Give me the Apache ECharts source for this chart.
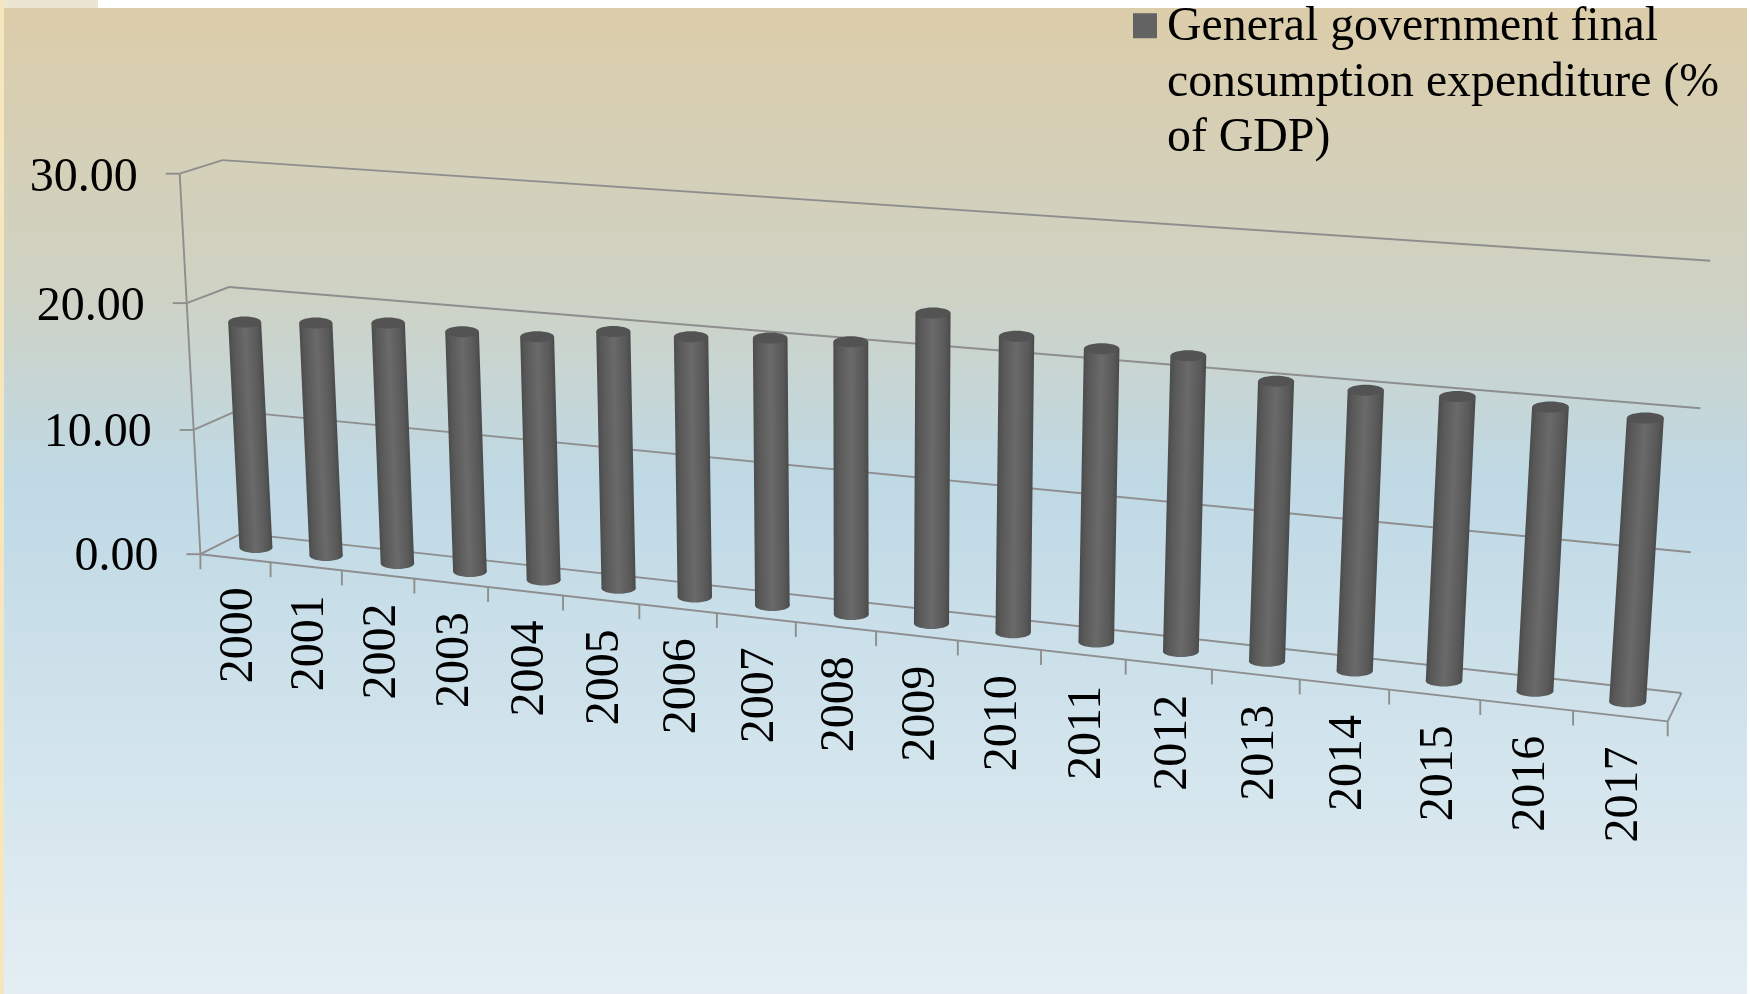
<!DOCTYPE html>
<html><head><meta charset="utf-8">
<style>html,body{margin:0;padding:0;background:#fff}#c{width:1750px;height:994px}</style>
<script src="https://cdn.jsdelivr.net/npm/echarts@6/dist/echarts.min.js"></script>
</head><body><div id="c"></div>
<script>
const categories=['2000','2001','2002','2003','2004','2005','2006','2007','2008','2009','2010','2011','2012','2013','2014','2015','2016','2017'];
const seriesName='General government final consumption expenditure (% of GDP)';
const expenditure=[18.1,18.5,19.0,18.8,18.9,19.8,19.9,20.3,20.5,23.1,21.9,21.5,21.5,20.2,20.1,20.2,20.0,19.8];
const yTicks=[0,10,20,30];

// Camera fit: reference points of the box (u = category slot, v = depth, w = value)
const anchors=[[0,0,0,202,553],[18,0,0,1668,722],[0,1,0,240,534],[18,1,0,1682,692],[0,0,30,178,174],[0,1,30,224,160],[18,1,30,1711,261],
[0,0,10,194,430],[0,0,20,186,303],[0,1,10,234,413],[0,1,20,231,286],[18,1,10,1691,552],[18,1,20,1699,408],[9,0,0,876,632],[4,0,0,489,586],[14,0,0,1299,680]];
function solveCam(){const n=11,A=Array.from({length:n},()=>Array(n+1).fill(0));
 const add=(r,b)=>{for(let i=0;i<n;i++){for(let j=0;j<n;j++)A[i][j]+=r[i]*r[j];A[i][n]+=r[i]*b;}};
 anchors.forEach(([u,v,w,x,y])=>{const s=[u/18,v,w/30];
  add([s[0],s[1],s[2],1,0,0,0,0,-x*s[0],-x*s[1],-x*s[2]],x);
  add([0,0,0,0,s[0],s[1],s[2],1,-y*s[0],-y*s[1],-y*s[2]],y);});
 for(let i=0;i<n;i++){let p=i;for(let k=i+1;k<n;k++)if(Math.abs(A[k][i])>Math.abs(A[p][i]))p=k;[A[i],A[p]]=[A[p],A[i]];
  for(let k=0;k<n;k++){if(k===i)continue;const f=A[k][i]/A[i][i];for(let j=i;j<=n;j++)A[k][j]-=f*A[i][j];}}
 return A.map((r,i)=>r[n]/r[i]);}
const M=solveCam();
const project=(u,v,w)=>{const a=u/18,b=v,c=w/30,d=M[8]*a+M[9]*b+M[10]*c+1;
 return [(M[0]*a+M[1]*b+M[2]*c+M[3])/d,(M[4]*a+M[5]*b+M[6]*c+M[7])/d];};

const LINE='#8e8e8e',FONT='"Liberation Serif","Times New Roman",serif';
const line=(a,b)=>({type:'line',shape:{x1:a[0],y1:a[1],x2:b[0],y2:b[1]},style:{stroke:LINE,lineWidth:1.9}});
function frameItem(params,api){
 const kids=[];
 yTicks.forEach(t=>{
  kids.push(line(project(0,0,t),project(0,1,t)));
  kids.push(line(project(0,1,t),project(18,1,t)));
  const p=project(0,0,t);
  kids.push(line([p[0]-14,p[1]],p));
  kids.push({type:'text',x:p[0]-42,y:p[1]+3+t*.07,style:{text:t.toFixed(2),font:'48px '+FONT,fill:'#000',align:'right',verticalAlign:'middle'}});
 });
 kids.push(line(project(0,0,0),project(0,0,30)));
 kids.push(line(project(0,0,0),project(18,0,0)));
 kids.push(line(project(18,0,0),project(18,1,0)));
 for(let i=0;i<=18;i++){const p=project(i,0,0);kids.push(line(p,[p[0],p[1]+15]));}
 categories.forEach((c,i)=>{const p=project(i+.5,0,0);
  kids.push({type:'text',x:p[0]+4.5,y:p[1]+77+i*.1,rotation:Math.PI/2,style:{text:c,font:'48px '+FONT,fill:'#000',align:'center',verticalAlign:'middle'}});});
 return {type:'group',children:kids};
}
function barItem(params,api){
 const i=api.value(0),val=api.value(1);
 const b=project(i+.5,.5,0),t=project(i+.5,.5,val);
 const r=16.5+2*i/17,ry=5.5;
 const stops=[{offset:0,color:'#4c4c4c'},{offset:.14,color:'#585858'},{offset:.5,color:'#6a6a6a'},{offset:.86,color:'#585858'},{offset:1,color:'#4a4a4a'}];
 const grad={type:'linear',global:true,x:t[0]-r,y:t[1],x2:t[0]+r,y2:t[1]+2*r*(t[0]-b[0])/(b[1]-t[1]),colorStops:stops};
 return {type:'group',children:[
  {type:'polygon',shape:{points:[[t[0]-r,t[1]],[t[0]+r,t[1]],[b[0]+r,b[1]],[b[0]-r,b[1]]]},style:{fill:grad}},
  {type:'ellipse',shape:{cx:b[0],cy:b[1],rx:r,ry:ry},style:{fill:{type:'linear',global:true,x:b[0]-r,y:b[1],x2:b[0]+r,y2:b[1],colorStops:stops}}},
  {type:'ellipse',shape:{cx:t[0],cy:t[1],rx:r,ry:ry},style:{fill:'#535353'}}]};
}
const chart=echarts.init(document.getElementById('c'),null,{renderer:'canvas'});
chart.setOption({
 animation:false,
 backgroundColor:'#fff',
 legend:{data:[seriesName],left:1133,top:0,padding:0,orient:'vertical',icon:'path://M0 0H0.01V0.01H0ZM0 13H24V38H0ZM0 166H0.01V166.01H0Z',itemWidth:24,itemHeight:166,itemGap:0,selectedMode:false,symbolKeepAspect:false,
  formatter:()=>'General government final\nconsumption expenditure (%\nof GDP)',textStyle:{fontFamily:FONT,fontSize:47.8,lineHeight:55.5,color:'#000',padding:[0,0,0,5]}},
 grid:{left:202,right:80,top:174,bottom:270},
 xAxis:{type:'category',data:categories,show:false},
 yAxis:{type:'value',min:0,max:30,interval:10,show:false},
 graphic:[
  {type:'rect',z:-10,silent:true,shape:{x:0,y:0,width:98,height:10},style:{fill:'#ece5d2'}},
  {type:'rect',z:-10,silent:true,shape:{x:0,y:0,width:4,height:994},style:{fill:'#f6e6bd'}},
  {type:'rect',z:-9,silent:true,shape:{x:4,y:8,width:1743,height:986},style:{fill:{type:'linear',x:0,y:0,x2:0,y2:1,colorStops:[
   {offset:0,color:'#dccdaa'},{offset:.28,color:'#cfd2c3'},{offset:.48,color:'#bfd9e5'},{offset:1,color:'#e4eef3'}]}}}
 ],
 series:[
  {type:'custom',name:'frame',silent:true,z:1,legendHoverLink:false,renderItem:frameItem,data:[[0,0]],encode:{x:0,y:1},clip:false},
  {type:'custom',name:seriesName,z:2,renderItem:barItem,itemStyle:{color:'#636363'},data:expenditure.map((v,i)=>[i,v]),encode:{x:0,y:1},clip:false}
 ]
});
</script></body></html>
